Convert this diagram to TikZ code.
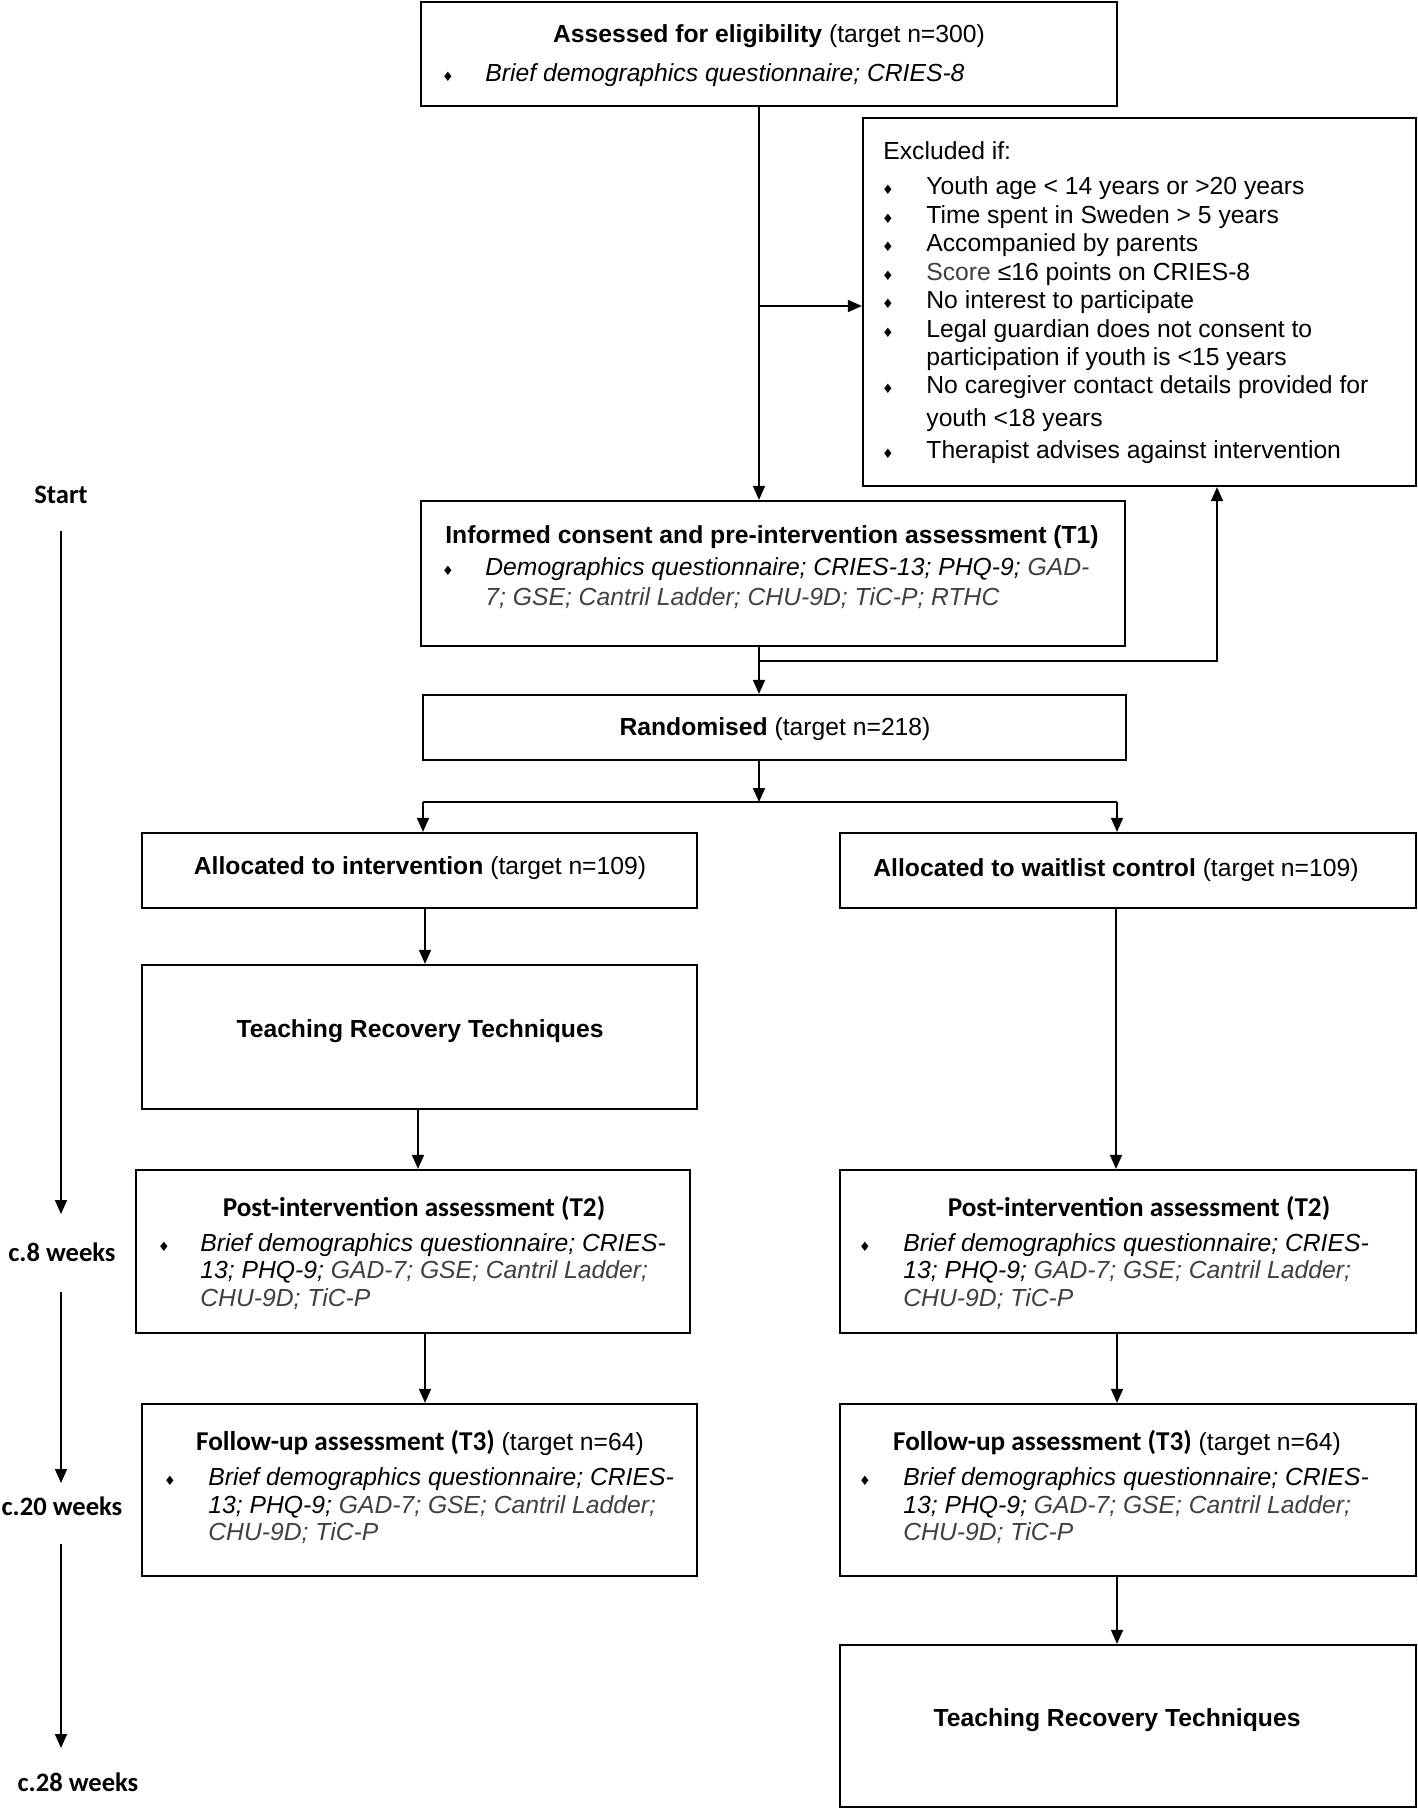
\documentclass[tikz,border=0pt]{standalone}
\usepackage{fontspec}
\setmainfont{Liberation Sans}[BoldFont={Liberation Sans Bold},ItalicFont={Liberation Sans Italic},BoldItalicFont={Liberation Sans Bold Italic}]
\newfontfamily\calfont{Carlito}[BoldFont={Carlito Bold}]
\newfontfamily\symfont{DejaVu Sans}
\usetikzlibrary{arrows.meta}
\definecolor{tg}{HTML}{404040}
\newcommand\fs{\fontsize{12.35pt}{14pt}\selectfont}
\newcommand\hf{\calfont\bfseries\fontsize{13.6pt}{15pt}\selectfont}
\newcommand\tf{\calfont\bfseries\fontsize{13.3pt}{15pt}\selectfont}
\newcommand\bul{{\symfont\fontsize{6.5pt}{7pt}\selectfont ♦}}
\newcommand\mkbox[5]{\node[box,minimum width={(#4-#2)*0.5pt},minimum height={(#5-#3)*0.5pt}] (#1) at ({(#2+#4)/2},{(#3+#5)/2}) {};}
\newcommand\tl[4]{\node[txt,anchor=base west] (#1) at (#2,#3) {#4};}
\newcommand\tc[4]{\node[txt,anchor=base] (#1) at (#2,#3) {#4};}
\newcommand\bp[3]{\node[txt,anchor=base] (#1) at (#2,#3) {\bul};}
\tikzset{
  box/.style={draw=black,line width=1.1pt,inner sep=0pt,fill=white},
  txt/.style={inner sep=0pt,font=\fs,text=black},
  ln/.style={line width=0.8pt},
  arr/.style={line width=0.8pt,-{Triangle[length=7pt,width=6pt]}}
}
\begin{document}
\begin{tikzpicture}[x=0.5pt,y=-0.5pt]
\useasboundingbox[fill=white] (0,0) rectangle (1418,1809);
% boxes
\mkbox{topb}{421}{2}{1117}{106}
\mkbox{excl}{863}{118}{1416}{486}
\mkbox{tone}{421}{501}{1125}{646}
\mkbox{rand}{423}{695}{1126}{760}
\mkbox{alli}{142}{833}{697}{908}
\mkbox{allw}{840}{833}{1416}{908}
\mkbox{trtl}{142}{965}{697}{1109}
\mkbox{ttwol}{136}{1170}{690}{1333}
\mkbox{ttwor}{840}{1170}{1416}{1333}
\mkbox{tthrl}{142}{1404}{697}{1576}
\mkbox{tthrr}{840}{1404}{1416}{1576}
\mkbox{trtr}{840}{1645}{1416}{1807}
% top box text
\tc{tbh}{769}{43}{\textbf{Assessed for eligibility} (target n=300)}
\bp{tbb}{448}{82}
\tl{tbl}{485}{82}{\textit{Brief demographics questionnaire; CRIES-8}}
% excluded
\tl{ex0}{883}{160}{Excluded if:}
\bp{exb1}{888}{194}\tl{ex1}{926}{194}{Youth age < 14 years or >20 years}
\bp{exb2}{888}{223}\tl{ex2}{926}{223}{Time spent in Sweden > 5 years}
\bp{exb3}{888}{251}\tl{ex3}{926}{251}{Accompanied by parents}
\bp{exb4}{888}{280}\tl{ex4}{926}{280}{\textcolor{tg}{Score} ≤16 points on CRIES-8}
\bp{exb5}{888}{308}\tl{ex5}{926}{308}{No interest to participate}
\bp{exb6}{888}{337}\tl{ex6}{926}{337}{Legal guardian does not consent to}
\tl{ex6b}{926}{365}{participation if youth is <15 years}
\bp{exb7}{888}{393}\tl{ex7}{926}{393}{No caregiver contact details provided for}
\tl{ex7b}{926}{426}{youth <18 years}
\bp{exb8}{888}{458}\tl{ex8}{926}{458}{Therapist advises against intervention}
% T1
\tc{t1h}{772}{543}{\textbf{Informed consent and pre-intervention assessment (T1)}}
\bp{t1b}{448}{575}
\tl{t1l1}{485}{575}{\textit{Demographics questionnaire; CRIES-13; PHQ-9; \textcolor{tg}{GAD-}}}
\tl{t1l2}{485}{605}{\textit{\textcolor{tg}{7; GSE; Cantril Ladder; CHU-9D; TiC-P; RTHC}}}
% randomised
\tc{rh}{775}{735}{\textbf{Randomised} (target n=218)}
% allocations
\tc{aih}{420}{874}{\textbf{Allocated to intervention} (target n=109)}
\tc{awh}{1116}{876}{\textbf{Allocated to waitlist control} (target n=109)}
% TRT
\tc{trtlh}{420}{1037}{\textbf{Teaching Recovery Techniques}}
\tc{trtrh}{1117}{1726}{\textbf{Teaching Recovery Techniques}}
% T2 left
\tc{t2lh}{414}{1216}{\hf Post-intervention assessment (T2)}
\bp{t2lb}{164}{1251}
\tl{t2l1}{200}{1251}{\textit{Brief demographics questionnaire; CRIES-}}
\tl{t2l2}{200}{1278}{\textit{13; PHQ-9; \textcolor{tg}{GAD-7; GSE; Cantril Ladder;}}}
\tl{t2l3}{200}{1306}{\textit{\textcolor{tg}{CHU-9D; TiC-P}}}
% T2 right
\tc{t2rh}{1139}{1216}{\hf Post-intervention assessment (T2)}
\bp{t2rb}{865}{1251}
\tl{t2r1}{903}{1251}{\textit{Brief demographics questionnaire; CRIES-}}
\tl{t2r2}{903}{1278}{\textit{13; PHQ-9; \textcolor{tg}{GAD-7; GSE; Cantril Ladder;}}}
\tl{t2r3}{903}{1306}{\textit{\textcolor{tg}{CHU-9D; TiC-P}}}
% T3 left
\tc{t3lh}{420}{1450}{{\hf Follow-up assessment (T3)} (target n=64)}
\bp{t3lb}{170}{1485}
\tl{t3l1}{208}{1485}{\textit{Brief demographics questionnaire; CRIES-}}
\tl{t3l2}{208}{1513}{\textit{13; PHQ-9; \textcolor{tg}{GAD-7; GSE; Cantril Ladder;}}}
\tl{t3l3}{208}{1540}{\textit{\textcolor{tg}{CHU-9D; TiC-P}}}
% T3 right
\tc{t3rh}{1117}{1450}{{\hf Follow-up assessment (T3)} (target n=64)}
\bp{t3rb}{865}{1485}
\tl{t3r1}{903}{1485}{\textit{Brief demographics questionnaire; CRIES-}}
\tl{t3r2}{903}{1513}{\textit{13; PHQ-9; \textcolor{tg}{GAD-7; GSE; Cantril Ladder;}}}
\tl{t3r3}{903}{1540}{\textit{\textcolor{tg}{CHU-9D; TiC-P}}}
% timeline
\node[txt,anchor=base] (st) at (61,503) {\tf Start};
\node[txt,anchor=base] (w8) at (62,1261) {\tf c.8 weeks};
\node[txt,anchor=base] (w20) at (62,1515) {\tf c.20 weeks};
\node[txt,anchor=base] (w28) at (78,1791) {\tf c.28 weeks};
\coordinate (ta1) at (61,531); \coordinate (ta2) at (61,1214);
\coordinate (tb1) at (61,1292); \coordinate (tb2) at (61,1483);
\coordinate (tc1) at (61,1544); \coordinate (tc2) at (61,1748);
\draw[arr] (ta1) -- (ta2);
\draw[arr] (tb1) -- (tb2);
\draw[arr] (tc1) -- (tc2);
% connectors
\coordinate (c1) at (759,306);
\draw[arr] (topb.south -| c1) -- (tone.north -| c1);
\draw[arr] (c1) -- (c1 -| excl.west);
\coordinate (c2) at (759,661);
\coordinate (c3) at (1217,661);
\draw[arr] (tone.south -| c2) -- (rand.north -| c2);
\draw[arr] (c2) -- (c3) -- (c3 |- excl.south);
\coordinate (c4) at (759,802);
\draw[arr] (rand.south -| c4) -- (c4);
\coordinate (c5) at (423,802);
\coordinate (c6) at (1117,802);
\draw[ln] (c5) -- (c6);
\draw[arr] (c5) -- (c5 |- alli.north);
\draw[arr] (c6) -- (c6 |- allw.north);
\coordinate (x1) at (425,0);
\coordinate (x2) at (418,0);
\coordinate (x3) at (1116,0);
\coordinate (x4) at (1117,0);
\draw[arr] (alli.south -| x1) -- (trtl.north -| x1);
\draw[arr] (trtl.south -| x2) -- (ttwol.north -| x2);
\draw[arr] (allw.south -| x3) -- (ttwor.north -| x3);
\draw[arr] (ttwol.south -| x1) -- (tthrl.north -| x1);
\draw[arr] (ttwor.south -| x4) -- (tthrr.north -| x4);
\draw[arr] (tthrr.south -| x4) -- (trtr.north -| x4);
\end{tikzpicture}
\end{document}
